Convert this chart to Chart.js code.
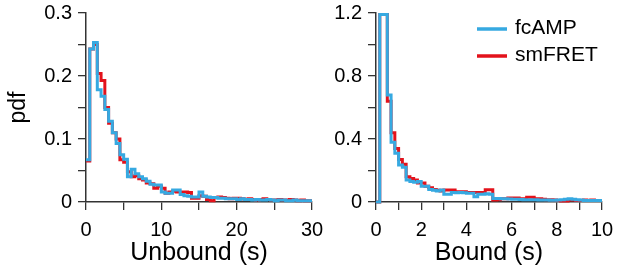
<!DOCTYPE html>
<html>
<head>
<meta charset="utf-8">
<script src="https://cdn.jsdelivr.net/npm/chart.js@4.4.1/dist/chart.umd.min.js"></script>
<style>
	body { margin: 0; background: #fff; }
	#wrap { position: relative; width: 617px; height: 269px; }
	#c1 { position: absolute; left: 0; top: 0; }
	#c2 { position: absolute; left: 290px; top: 0; }
</style>
</head>
<body>
<div id="wrap">
	<canvas id="c1" width="330" height="269"></canvas>
	<canvas id="c2" width="327" height="269"></canvas>
</div>
<script>
// histogram bins: unbound 0.5 s wide, bound 1/6 s wide (60 bins each)
var unboundBin = 0.5;
var boundBin = 10 / 60;

var unboundCamp = [0.067, 0.243, 0.253, 0.178, 0.168, 0.147, 0.128, 0.110, 0.093, 0.075,
	0.068, 0.040, 0.052, 0.045, 0.040, 0.037, 0.033, 0.028, 0.027, 0.027,
	0.016, 0.014, 0.014, 0.019, 0.019, 0.012, 0.010, 0.009, 0.008, 0.008,
	0.016, 0.009, 0.008, 0.007, 0.007, 0.006, 0.006, 0.005, 0.005, 0.005,
	0.004, 0.005, 0.004, 0.004, 0.003, 0.004, 0.003, 0.003, 0.004, 0.003,
	0.002, 0.003, 0.003, 0.002, 0.002, 0.003, 0.002, 0.002, 0.002, 0.002];
var unboundFret = [0.065, 0.243, 0.250, 0.204, 0.193, 0.150, 0.125, 0.110, 0.100, 0.067,
	0.063, 0.048, 0.040, 0.042, 0.037, 0.035, 0.030, 0.029, 0.022, 0.025,
	0.022, 0.014, 0.016, 0.017, 0.016, 0.016, 0.016, 0.015, 0.006, 0.006,
	0.010, 0.009, 0.004, 0.002, 0.007, 0.008, 0.007, 0.006, 0.005, 0.006,
	0.006, 0.005, 0.004, 0.005, 0.004, 0.003, 0.004, 0.005, 0.004, 0.003,
	0.003, 0.004, 0.003, 0.003, 0.004, 0.003, 0.002, 0.003, 0.002, 0.002];

var boundCamp = [0, 1.19, 1.19, 0.68, 0.38, 0.31, 0.235, 0.22, 0.14, 0.13,
	0.125, 0.13, 0.10, 0.10, 0.08, 0.075, 0.07, 0.076, 0.049, 0.049,
	0.06, 0.058, 0.06, 0.058, 0.055, 0.055, 0.034, 0.05, 0.05, 0.052,
	0.05, 0.023, 0.022, 0.021, 0.02, 0.019, 0.018, 0.017, 0.016, 0.015,
	0.015, 0.014, 0.014, 0.013, 0.012, 0.012, 0.011, 0.011, 0.012, 0.015,
	0.018, 0.02, 0.018, 0.015, 0.012, 0.010, 0.010, 0.009, 0.010, 0.010];
var boundFret = [0, 1.19, 1.19, 0.64, 0.44, 0.34, 0.27, 0.24, 0.16, 0.15,
	0.14, 0.12, 0.12, 0.10, 0.09, 0.08, 0.075, 0.07, 0.076, 0.076,
	0.076, 0.065, 0.065, 0.065, 0.06, 0.06, 0.06, 0.06, 0.06, 0.077,
	0.077, 0.013, 0.015, 0.02, 0.02, 0.025, 0.025, 0.025, 0.02, 0.02,
	0.03, 0.03, 0.02, 0.02, 0.018, 0.015, 0.015, 0.012, 0.010, 0.007,
	0.007, 0.012, 0.012, 0.010, 0.010, 0.012, 0.010, 0.012, 0.010, 0.010];

var seriesNames = ['fcAMP', 'smFRET'];
var seriesColors = ['#36a9e1', '#e3121b'];

var unboundTicks = { min: 0, max: 30, step: 5, labelEvery: 10 };
var boundTicks = { min: 0, max: 10, step: 1, labelEvery: 2 };
var unboundY = { min: 0, max: 0.3, step: 0.05, labelEvery: 0.1 };
var boundY = { min: 0, max: 1.2, step: 0.2, labelEvery: 0.4 };

var FONT = "'Liberation Sans', Arial, sans-serif";
var AXIS = '#333333';

// left bin edges -> points, plus closing point at the right edge
function toSteps(vals, w) {
	var pts = [];
	for (var i = 0; i < vals.length; i++) {
		pts.push({ x: i * w, y: vals[i] });
	}
	pts.push({ x: vals.length * w, y: vals[vals.length - 1] });
	return pts;
}

function labelCb(every) {
	return function(v) {
		var r = v / every;
		if (Math.abs(r - Math.round(r)) < 1e-6) {
			return String(Math.round(r * every * 10) / 10);
		}
		return '';
	};
}

function fixSize(size, horiz) {
	return function(scale) {
		if (horiz) scale.height = size; else scale.width = size;
		scale.paddingLeft = 0; scale.paddingRight = 0;
		scale.paddingTop = 0; scale.paddingBottom = 0;
	};
}

function makeScales(xt, yt, xTitle, yTitle) {
	var yTitleOpt = yTitle ? { display: true, text: yTitle, color: '#000', font: { family: FONT, size: 23 }, padding: { top: 5, bottom: 4 } } : { display: false };
	return {
		x: {
			type: 'linear',
			min: xt.min, max: xt.max,
			afterFit: fixSize(67, true),
			border: { display: true, color: AXIS, width: 1.5 },
			grid: { display: true, drawOnChartArea: false, drawTicks: true, tickLength: 8, color: AXIS, lineWidth: 1.3 },
			ticks: { stepSize: xt.step, autoSkip: false, maxRotation: 0, color: '#000', padding: 8,
				font: { family: FONT, size: 20 }, callback: labelCb(xt.labelEvery) },
			title: { display: true, text: xTitle, color: '#000', font: { family: FONT, size: 25 }, padding: { top: 4, bottom: 1 } }
		},
		y: {
			type: 'linear',
			min: yt.min, max: yt.max,
			afterFit: fixSize(86, false),
			border: { display: true, color: AXIS, width: 1.5 },
			grid: { display: true, drawOnChartArea: false, drawTicks: true, tickLength: 8, color: AXIS, lineWidth: 1.3 },
			ticks: { stepSize: yt.step, autoSkip: false, color: '#000', padding: 6,
				font: { family: FONT, size: 20 }, callback: labelCb(yt.labelEvery) },
			title: yTitleOpt
		}
	};
}

function makeData(a, b, w) {
	return {
		datasets: [
			{ label: seriesNames[0], data: toSteps(a, w), borderColor: seriesColors[0], backgroundColor: seriesColors[0],
				borderWidth: 3, pointRadius: 0, stepped: 'before', fill: false, clip: false },
			{ label: seriesNames[1], data: toSteps(b, w), borderColor: seriesColors[1], backgroundColor: seriesColors[1],
				borderWidth: 3, pointRadius: 0, stepped: 'before', fill: false, clip: false }
		]
	};
}

// legend drawn inside the plot, top right, line + label per dataset
var lineLegend = {
	id: 'lineLegend',
	afterDraw: function(chart, args, opts) {
		if (!opts.show) return;
		var ctx = chart.ctx;
		var x0 = chart.chartArea.right - 125;
		var y0 = chart.chartArea.top + 16;
		ctx.save();
		ctx.font = '21px ' + FONT;
		ctx.textBaseline = 'middle';
		chart.data.datasets.forEach(function(ds, i) {
			var y = y0 + i * 27;
			ctx.strokeStyle = ds.borderColor;
			ctx.lineWidth = 3.5;
			ctx.beginPath();
			ctx.moveTo(x0, y);
			ctx.lineTo(x0 + 30, y);
			ctx.stroke();
			ctx.fillStyle = '#000';
			ctx.fillText(ds.label, x0 + 38, y - 1);
		});
		ctx.restore();
	}
};

var c1 = new Chart(document.getElementById('c1'), {
	type: 'line',
	data: makeData(unboundCamp, unboundFret, unboundBin),
	options: {
		responsive: false,
		animation: false,
		layout: { padding: { top: 13, right: 18, left: 0, bottom: 0 } },
		plugins: { legend: { display: false }, tooltip: { enabled: false }, lineLegend: { show: false } },
		scales: makeScales(unboundTicks, unboundY, 'Unbound (s)', 'pdf')
	},
	plugins: [lineLegend]
});

var c2 = new Chart(document.getElementById('c2'), {
	type: 'line',
	data: makeData(boundCamp, boundFret, boundBin),
	options: {
		responsive: false,
		animation: false,
		layout: { padding: { top: 13, right: 15, left: 0, bottom: 0 } },
		plugins: { legend: { display: false }, tooltip: { enabled: false }, lineLegend: { show: true } },
		scales: makeScales(boundTicks, boundY, 'Bound (s)', null)
	},
	plugins: [lineLegend]
});
</script>
</body>
</html>
